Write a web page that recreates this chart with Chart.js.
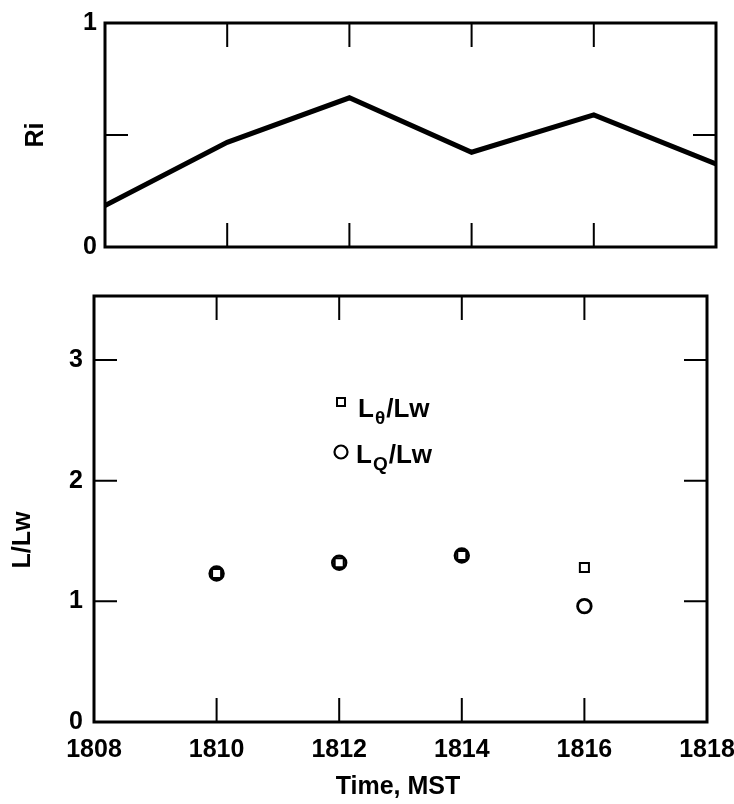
<!DOCTYPE html>
<html>
<head>
<meta charset="utf-8">
<script src="https://cdn.jsdelivr.net/npm/chart.js@4.4.0/dist/chart.umd.min.js"></script>
<style>
    body { margin: 0; background: #fff; }
    #wrap { position: relative; width: 734px; height: 804px; }
    canvas { position: absolute; left: 0; }
</style>
</head>
<body>
<div id="wrap">
    <canvas id="riChart" width="734" height="270" style="top:0"></canvas>
    <canvas id="ratioChart" width="734" height="534" style="top:270px"></canvas>
</div>
<script>
// Ri over time (top panel)
const riTimes = [1808, 1810, 1812, 1814, 1816, 1818];
const riValues = [0.185, 0.467, 0.666, 0.423, 0.59, 0.371];

// length scale ratios (bottom panel)
const obsTimes = [1810, 1812, 1814, 1816];
const thetaRatio = [1.23, 1.32, 1.38, 1.28];
const qRatio = [1.23, 1.32, 1.38, 0.96];

// inward tick marks
const riXTicks = [1810, 1812, 1814, 1816];
const riYTicks = [0.5];
const ratioXTicks = [1810, 1812, 1814, 1816];
const ratioYTicks = [1, 2, 3];
const riYLabels = [0, 1];

const FONT = '"Liberation Sans", Arial, sans-serif';
Chart.defaults.color = '#000';
Chart.defaults.font.family = FONT;

// frame + inward ticks, both sides
function frameTicks(xTicks, yTicks) {
    return {
        id: 'frameTicks',
        afterDatasetsDraw(chart) {
            const { ctx, chartArea: a, scales: { x, y } } = chart;
            ctx.save();
            ctx.strokeStyle = '#000';
            ctx.lineWidth = 2;
            ctx.beginPath();
            xTicks.forEach(v => {
                const px = x.getPixelForValue(v);
                ctx.moveTo(px, a.top); ctx.lineTo(px, a.top + 24);
                ctx.moveTo(px, a.bottom); ctx.lineTo(px, a.bottom - 24);
            });
            yTicks.forEach(v => {
                const py = y.getPixelForValue(v);
                ctx.moveTo(a.left, py); ctx.lineTo(a.left + 23, py);
                ctx.moveTo(a.right, py); ctx.lineTo(a.right - 23, py);
            });
            ctx.stroke();
            ctx.lineWidth = 3;
            ctx.strokeRect(a.left, a.top, a.right - a.left, a.bottom - a.top);
            ctx.restore();
        }
    };
}

// text with subscripts, left aligned at baseline
function drawRich(ctx, x, y, parts) {
    parts.forEach(p => {
        ctx.font = p.sub ? 'bold 19px ' + FONT : 'bold 26px ' + FONT;
        ctx.fillText(p.t, x, y + (p.sub ? 7 : 0));
        x += ctx.measureText(p.t).width + (p.gap || 0);
    });
}

function drawVertical(ctx, text, cx, cy) {
    ctx.save();
    ctx.translate(cx, cy);
    ctx.rotate(-Math.PI / 2);
    ctx.textAlign = 'center';
    ctx.textBaseline = 'middle';
    ctx.font = 'bold 25px ' + FONT;
    ctx.fillText(text, 0, 0);
    ctx.restore();
}

const riTitles = {
    id: 'riTitles',
    afterDraw(chart) {
        drawVertical(chart.ctx, 'Ri', 36, 135);
    }
};

const ratioTitles = {
    id: 'ratioTitles',
    afterDraw(chart) {
        const ctx = chart.ctx;
        ctx.save();
        ctx.fillStyle = '#000';
        drawVertical(ctx, 'L/Lw', 23, 270);

        ctx.textAlign = 'center';
        ctx.textBaseline = 'middle';
        ctx.font = 'bold 25px ' + FONT;
        ctx.fillText('Time, MST', 398, 517);

        // in-plot key
        ctx.textAlign = 'left';
        ctx.textBaseline = 'alphabetic';
        ctx.lineWidth = 2;
        ctx.strokeRect(337, 128, 8, 8);
        ctx.lineWidth = 2.2;
        ctx.beginPath();
        ctx.arc(341, 182, 6.5, 0, Math.PI * 2);
        ctx.stroke();
        drawRich(ctx, 358, 147, [{ t: 'L', gap: 1 }, { t: 'θ', sub: true, gap: 1 }, { t: '/Lw' }]);
        drawRich(ctx, 356, 193, [{ t: 'L', gap: 1 }, { t: 'Q', sub: true, gap: 1 }, { t: '/Lw' }]);
        ctx.restore();
    }
};

const tickFont = { size: 25, weight: 'bold', family: FONT };

new Chart(document.getElementById('riChart'), {
    type: 'line',
    data: {
        datasets: [{
            data: riTimes.map((t, i) => ({ x: t, y: riValues[i] })),
            borderColor: '#000',
            borderWidth: 5,
            pointRadius: 0,
            tension: 0
        }]
    },
    options: {
        responsive: false,
        animation: false,
        events: [],
        layout: { padding: { top: 14, right: 18, left: 0, bottom: 0 } },
        plugins: { legend: { display: false }, tooltip: { enabled: false } },
        scales: {
            x: {
                type: 'linear', min: 1808, max: 1818,
                grid: { display: false }, border: { display: false },
                ticks: { display: false },
                afterFit: s => { s.height = 13; }
            },
            y: {
                min: 0, max: 1,
                grid: { display: false, drawTicks: false }, border: { display: false },
                ticks: {
                    stepSize: 0.5, padding: 8, font: tickFont,
                    callback: v => riYLabels.includes(v) ? String(v) : ''
                },
                afterFit: s => { s.width = 105; }
            }
        }
    },
    plugins: [frameTicks(riXTicks, riYTicks), riTitles]
});

new Chart(document.getElementById('ratioChart'), {
    type: 'scatter',
    data: {
        datasets: [{
            label: 'LQ/Lw',
            data: obsTimes.map((t, i) => ({ x: t, y: qRatio[i] })),
            pointStyle: 'circle',
            pointRadius: 6.8,
            borderWidth: 2.8,
            borderColor: '#000',
            backgroundColor: 'rgba(0,0,0,0)'
        }, {
            label: 'Lθ/Lw',
            data: obsTimes.map((t, i) => ({ x: t, y: thetaRatio[i] })),
            pointStyle: 'rect',
            pointRadius: 6.4,
            borderWidth: 2,
            borderColor: '#000',
            backgroundColor: 'rgba(0,0,0,0)'
        }]
    },
    options: {
        responsive: false,
        animation: false,
        events: [],
        layout: { padding: { top: 23, right: 27, left: 0, bottom: 0 } },
        plugins: { legend: { display: false }, tooltip: { enabled: false } },
        scales: {
            x: {
                type: 'linear', min: 1808, max: 1818,
                grid: { display: false, drawTicks: false }, border: { display: false },
                ticks: { stepSize: 2, padding: 13, font: tickFont, maxRotation: 0, callback: v => String(v) },
                afterFit: s => { s.height = 82; s.paddingLeft = 0; s.paddingRight = 0; }
            },
            y: {
                min: 0, max: 3.53,
                grid: { display: false, drawTicks: false }, border: { display: false },
                ticks: {
                    stepSize: 1, padding: 11, font: tickFont, includeBounds: false,
                    callback: v => Number.isInteger(v) ? String(v) : ''
                },
                afterFit: s => { s.width = 94; }
            }
        }
    },
    plugins: [frameTicks(ratioXTicks, ratioYTicks), ratioTitles]
});
</script>
</body>
</html>
